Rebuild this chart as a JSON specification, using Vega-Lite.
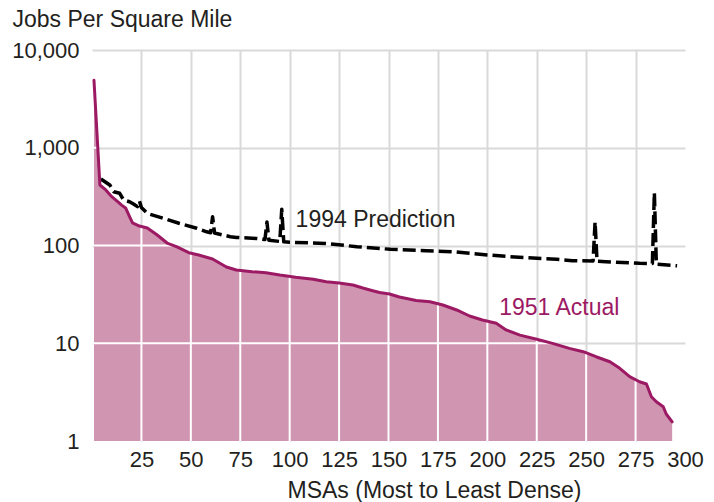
{
  "$schema": "https://vega.github.io/schema/vega-lite/v6.json",
  "width": 593,
  "height": 391,
  "autosize": "none",
  "padding": {"left": 92, "top": 50, "right": 29, "bottom": 61},
  "background": "white",
  "config": {
    "view": {"stroke": null},
    "font": "Liberation Sans",
    "axis": {"labelFont": "Liberation Sans", "titleFont": "Liberation Sans", "labelColor": "#231f20", "titleColor": "#231f20", "titleFontWeight": "normal"}
  },
  "datasets": {
    "actual": [
      {"x": 1, "v": 4900}, {"x": 4, "v": 416}, {"x": 7, "v": 370}, {"x": 10, "v": 316},
      {"x": 13, "v": 281}, {"x": 15, "v": 259}, {"x": 17, "v": 242}, {"x": 19, "v": 197},
      {"x": 20.5, "v": 170}, {"x": 24, "v": 158}, {"x": 28, "v": 151}, {"x": 33, "v": 128},
      {"x": 38, "v": 106}, {"x": 43, "v": 96.6}, {"x": 49, "v": 84.4}, {"x": 54, "v": 80},
      {"x": 61, "v": 72.7}, {"x": 64.5, "v": 66.2}, {"x": 68, "v": 60.3}, {"x": 73, "v": 56.1},
      {"x": 81, "v": 53.9}, {"x": 88, "v": 52.7}, {"x": 95, "v": 49.9}, {"x": 103, "v": 47.3},
      {"x": 112, "v": 45.1}, {"x": 118.5, "v": 42.6}, {"x": 125, "v": 41.3}, {"x": 132, "v": 39.4},
      {"x": 137, "v": 36.7}, {"x": 142, "v": 34.5}, {"x": 145.5, "v": 33.0}, {"x": 150.5, "v": 31.9},
      {"x": 155.5, "v": 29.7}, {"x": 164, "v": 27.4}, {"x": 171, "v": 26.6}, {"x": 177.5, "v": 24.6},
      {"x": 184.5, "v": 21.9}, {"x": 191, "v": 19.0}, {"x": 197.5, "v": 17.3}, {"x": 204.5, "v": 16.0},
      {"x": 209.5, "v": 13.7}, {"x": 216.5, "v": 12.1}, {"x": 225, "v": 11.0}, {"x": 233, "v": 9.98},
      {"x": 241.5, "v": 8.87}, {"x": 248.5, "v": 8.2}, {"x": 255, "v": 7.28}, {"x": 262, "v": 6.47},
      {"x": 267, "v": 5.54}, {"x": 272, "v": 4.55}, {"x": 277, "v": 4.04}, {"x": 280.5, "v": 3.83},
      {"x": 283, "v": 2.84}, {"x": 285.5, "v": 2.52}, {"x": 289, "v": 2.24}, {"x": 290.5, "v": 1.89},
      {"x": 293.5, "v": 1.57}
    ],
    "pred": [
      {"x": 4.5, "v": 479}, {"x": 9, "v": 416}, {"x": 11, "v": 355}, {"x": 14, "v": 342},
      {"x": 16, "v": 292}, {"x": 19, "v": 280}, {"x": 21, "v": 266}, {"x": 23, "v": 250},
      {"x": 24, "v": 285}, {"x": 25, "v": 245}, {"x": 28, "v": 213}, {"x": 36, "v": 190},
      {"x": 44, "v": 169}, {"x": 53, "v": 150}, {"x": 58, "v": 138}, {"x": 60, "v": 135},
      {"x": 61, "v": 197}, {"x": 62, "v": 134}, {"x": 70, "v": 123}, {"x": 73, "v": 121},
      {"x": 83, "v": 118}, {"x": 85, "v": 117}, {"x": 87.5, "v": 115}, {"x": 88.5, "v": 174},
      {"x": 89.5, "v": 113}, {"x": 95, "v": 110}, {"x": 96, "v": 235}, {"x": 97, "v": 109},
      {"x": 100, "v": 108}, {"x": 118, "v": 105}, {"x": 134, "v": 97.2}, {"x": 151, "v": 91.4},
      {"x": 169, "v": 88.5}, {"x": 183, "v": 86.4}, {"x": 200, "v": 80}, {"x": 216, "v": 75.7},
      {"x": 235, "v": 72.2}, {"x": 243, "v": 70}, {"x": 253.5, "v": 69.5}, {"x": 254.5, "v": 174},
      {"x": 255.5, "v": 69}, {"x": 260, "v": 68.2}, {"x": 277, "v": 65.8}, {"x": 283.5, "v": 65.5},
      {"x": 284.5, "v": 347}, {"x": 285.5, "v": 64.5}, {"x": 296, "v": 62}
    ],
    "vgrid": [
      {"x": 25, "v": 156, "lo": 1}, {"x": 50, "v": 83.8, "lo": 1}, {"x": 75, "v": 55.6, "lo": 1}, {"x": 100, "v": 48.3, "lo": 1},
      {"x": 125, "v": 41.3, "lo": 1}, {"x": 150, "v": 32, "lo": 1}, {"x": 175, "v": 25.3, "lo": 1}, {"x": 200, "v": 16.9, "lo": 1},
      {"x": 225, "v": 11, "lo": 1}, {"x": 250, "v": 7.97, "lo": 1}, {"x": 275, "v": 4.26, "lo": 1}
    ],
    "hgrid": [
      {"v": 1000, "x": 0, "xe": 2.9}, {"v": 100, "x": 0, "xe": 41}, {"v": 10, "x": 0, "xe": 233}
    ],
    "labels": [
      {"x": 103, "v": 182, "t": "1994 Prediction", "c": "#231f20"},
      {"x": 206, "v": 23, "t": "1951 Actual", "c": "#9c1a63"}
    ]
  },
  "layer": [
    {
      "data": {"name": "actual"},
      "transform": [{"calculate": "1", "as": "lo"}],
      "mark": {"type": "area", "color": "#d095b1"},
      "encoding": {
        "x": {
          "field": "x", "type": "quantitative",
          "scale": {"domain": [0, 300], "nice": false, "zero": false},
          "axis": {
            "title": "MSAs (Most to Least Dense)",
            "values": [25, 50, 75, 100, 125, 150, 175, 200, 225, 250, 275, 300],
            "domain": false, "ticks": false,
            "labelFontSize": 22, "labelPadding": 8,
            "labelFlush": false,
            "grid": true, "gridColor": "#d9d9d9", "gridWidth": 2,
            "gridOpacity": {"condition": {"test": "datum.value >= 300", "value": 0}, "value": 1},
            "titleFontSize": 23, "titleX": 342, "titleY": 56, "titleBaseline": "alphabetic", "titleAnchor": "middle", "titleAlign": "center"
          }
        },
        "y": {
          "field": "v", "type": "quantitative", "stack": null,
          "scale": {"type": "log", "domain": [1, 10000], "nice": false},
          "axis": {
            "title": "Jobs Per Square Mile",
            "values": [1, 10, 100, 1000, 10000],
            "format": ",",
            "domain": false, "ticks": false,
            "labelFontSize": 22, "labelPadding": 13,
            "grid": true, "gridColor": "#d9d9d9", "gridWidth": 2,
            "gridOpacity": {"condition": {"test": "datum.value <= 1", "value": 0}, "value": 1},
            "titleAngle": 0, "titleAlign": "left", "titleBaseline": "alphabetic",
            "titleX": -80, "titleY": -24, "titleFontSize": 23
          }
        },
        "y2": {"field": "lo"}
      }
    },
    {
      "data": {"name": "vgrid"},
      "mark": {"type": "rule", "color": "white", "strokeWidth": 2},
      "encoding": {
        "x": {"field": "x", "type": "quantitative"},
        "y": {"field": "v", "type": "quantitative"},
        "y2": {"field": "lo"}
      }
    },
    {
      "data": {"name": "hgrid"},
      "mark": {"type": "rule", "color": "white", "strokeWidth": 2},
      "encoding": {
        "y": {"field": "v", "type": "quantitative"},
        "x": {"field": "x", "type": "quantitative"},
        "x2": {"field": "xe"}
      }
    },
    {
      "data": {"name": "pred"},
      "mark": {"type": "line", "color": "black", "strokeWidth": 3.5, "strokeDash": [13, 5], "strokeJoin": "round"},
      "encoding": {
        "x": {"field": "x", "type": "quantitative"},
        "y": {"field": "v", "type": "quantitative"}
      }
    },
    {
      "data": {"name": "actual"},
      "mark": {"type": "line", "color": "#9c1a63", "strokeWidth": 3, "strokeJoin": "round", "strokeCap": "round"},
      "encoding": {
        "x": {"field": "x", "type": "quantitative"},
        "y": {"field": "v", "type": "quantitative"}
      }
    },
    {
      "data": {"name": "labels"},
      "mark": {"type": "text", "align": "left", "baseline": "middle", "fontSize": 23, "font": "Liberation Sans"},
      "encoding": {
        "x": {"field": "x", "type": "quantitative"},
        "y": {"field": "v", "type": "quantitative"},
        "text": {"field": "t"},
        "color": {"field": "c", "type": "nominal", "scale": null}
      }
    }
  ]
}
